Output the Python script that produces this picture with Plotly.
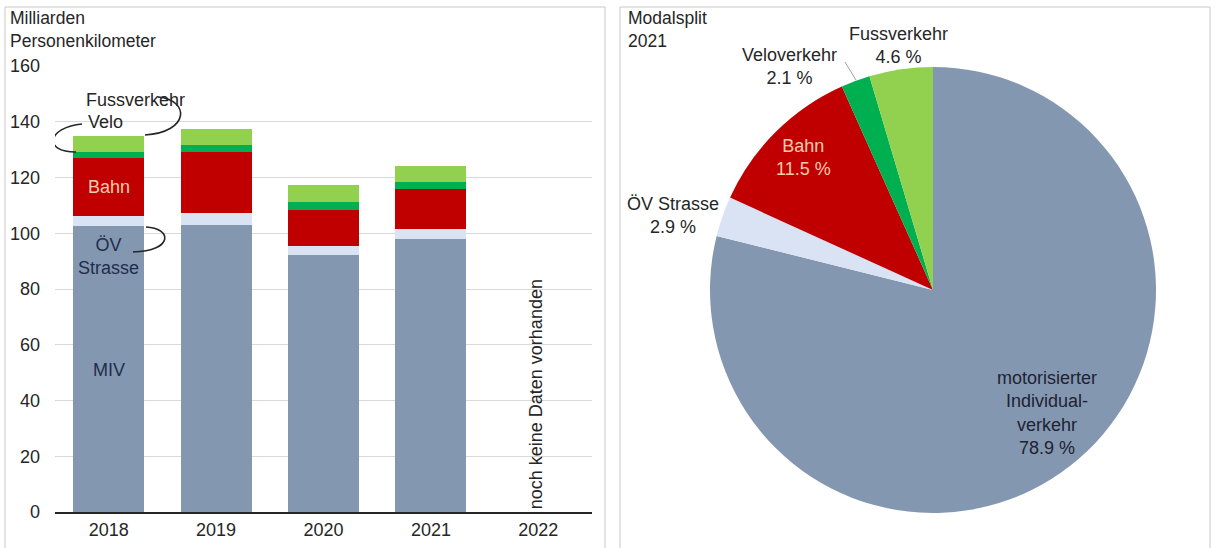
import plotly.graph_objects as go

# ---------------- data ----------------
years = ["2018", "2019", "2020", "2021", "2022"]
miv = [102.5, 103.0, 92.2, 97.8, None]
oev_strasse = [3.8, 4.3, 3.3, 3.6, None]
bahn = [20.7, 21.7, 12.8, 14.3, None]
velo = [2.3, 2.8, 3.0, 2.6, None]
fuss = [5.7, 5.6, 6.0, 5.7, None]

series_names = ["MIV", "ÖV Strasse", "Bahn", "Velo", "Fussverkehr"]
series_colors = ["#8497B0", "#DAE3F3", "#C00000", "#00B050", "#92D050"]

pie_labels = ["motorisierter<br>Individual-<br>verkehr", "ÖV Strasse", "Bahn", "Veloverkehr", "Fussverkehr"]
pie_pct = [78.9, 2.9, 11.5, 2.1, 4.6]

yticks = [0, 20, 40, 60, 80, 100, 120, 140, 160]

W, H = 1216, 548
FONT = "Liberation Sans, Arial, sans-serif"
FS = 18


def px(x):
    return x / W


def py(y):
    return 1 - y / H


fig = go.Figure()

xs = list(range(len(years)))
for name, vals, col in zip(series_names, [miv, oev_strasse, bahn, velo, fuss], series_colors):
    fig.add_trace(go.Bar(
        x=xs, y=vals, name=name, marker=dict(color=col, line=dict(width=0)),
        width=0.66, xaxis="x", yaxis="y", showlegend=False, hoverinfo="y+name",
    ))

fig.add_trace(go.Pie(
    values=pie_pct, labels=[l.replace("<br>", " ") for l in pie_labels],
    marker=dict(colors=series_colors, line=dict(width=0)),
    sort=False, direction="clockwise", rotation=0, textinfo="none",
    domain=dict(x=[px(710), px(1156)], y=[py(513), py(67)]),
    showlegend=False, hoverinfo="label+percent",
))

# ---------------- layout ----------------
fig.update_layout(
    width=W, height=H, margin=dict(l=0, r=0, t=0, b=0, autoexpand=False),
    paper_bgcolor="white", plot_bgcolor="white",
    barmode="stack", bargap=0.34,
    font=dict(family=FONT, size=FS, color="#262626"),
    xaxis=dict(domain=[px(55), px(592)], range=[-0.5, 4.5], tickmode="array",
               tickvals=xs, ticktext=years, showgrid=False, zeroline=False,
               showline=True, linecolor="#262626", linewidth=2, ticks="",
               tickfont=dict(size=FS, color="#262626"), fixedrange=True,
               automargin=False),
    yaxis=dict(domain=[py(512), py(66)], range=[0, 160], tickvals=yticks,
               showgrid=True, gridcolor="#D9D9D9", gridwidth=1, zeroline=False,
               showline=False, ticks="", ticklabelstandoff=14,
               tickfont=dict(size=FS, color="#262626"), fixedrange=True,
               automargin=False),
)

ann = []
# left panel title
ann.append(dict(text="Milliarden<br>Personenkilometer", xref="paper", yref="paper",
                x=px(8), y=py(6), xanchor="left", yanchor="top", align="left",
                showarrow=False, font=dict(size=17.5, color="#262626")))
# in-bar labels (data coords)
lab_col = "#1F2D4D"
ann += [
    dict(text="Fussverkehr", x=0.245, y=147.8, xref="x", yref="y", showarrow=False,
         font=dict(size=FS, color="#262626")),
    dict(text="Velo", x=-0.03, y=139.9, xref="x", yref="y", showarrow=False,
         font=dict(size=FS, color="#262626")),
    dict(text="Bahn", x=0, y=116.6, xref="x", yref="y", showarrow=False,
         font=dict(size=FS, color="#F8CBAD")),
    dict(text="ÖV<br>Strasse", x=0, y=91.5, xref="x", yref="y", showarrow=False,
         font=dict(size=FS, color=lab_col)),
    dict(text="MIV", x=0, y=51, xref="x", yref="y", showarrow=False,
         font=dict(size=FS, color=lab_col)),
    dict(text="noch keine Daten vorhanden", x=3.98, y=42.3, xref="x", yref="y",
         showarrow=False, textangle=-90, font=dict(size=FS, color="#262626")),
]

# pie labels
ann.append(dict(text="Modalsplit<br>2021", xref="paper", yref="paper",
                x=px(626), y=py(6), xanchor="left", yanchor="top", align="left",
                showarrow=False, font=dict(size=17.5, color="#262626")))
pie_pos = [(1047, 413), (673, 216), (803, 157), (789, 66), (898, 46)]
pie_col = ["#1E2233", "#262626", "#F8CBAD", "#262626", "#262626"]
for lab, pct, (x, y), c in zip(pie_labels, pie_pct, pie_pos, pie_col):
    ann.append(dict(text=f"{lab}<br>{pct:.1f} %", xref="paper", yref="paper",
                    x=px(x), y=py(y), xanchor="center", yanchor="middle",
                    showarrow=False, align="center",
                    font=dict(size=FS, color=c)))
fig.update_layout(annotations=ann)


# ---------------- shapes ----------------
def dx(p):
    return (p - 55) / 107.4 - 0.5


def dy(p):
    return (512 - p) / 2.7875


def curve(pts):
    (x0, y0), (x1, y1), (x2, y2), (x3, y3) = pts
    return (f"M {dx(x0)},{dy(y0)} C {dx(x1)},{dy(y1)} {dx(x2)},{dy(y2)} {dx(x3)},{dy(y3)}")


shapes = []
for pts in [
    [(82, 124), (48, 127), (42, 152), (76, 152)],
    [(158, 97), (190, 100), (190, 132), (145, 135)],
    [(146, 227), (172, 228), (174, 251), (133, 252)],
]:
    shapes.append(dict(type="path", xref="x", yref="y", path=curve(pts),
                       line=dict(color="#262626", width=1.6)))

# veloverkehr leader
shapes.append(dict(type="line", xref="paper", yref="paper", x0=px(845), y0=py(62),
                   x1=px(856), y1=py(80), line=dict(color="#A0A0A0", width=1)))
# panel frames
shapes.append(dict(type="rect", xref="paper", yref="paper", x0=px(5), y0=py(7),
                   x1=px(605), y1=py(560), line=dict(color="#C8C8C8", width=1)))
shapes.append(dict(type="rect", xref="paper", yref="paper", x0=px(620), y0=py(7),
                   x1=px(1210), y1=py(560), line=dict(color="#C8C8C8", width=1)))
fig.update_layout(shapes=shapes)

fig.write_html(
    "out.html",
    config={"displayModeBar": False},
    post_script="document.body.style.margin='0';document.body.style.overflow='hidden';",
)
